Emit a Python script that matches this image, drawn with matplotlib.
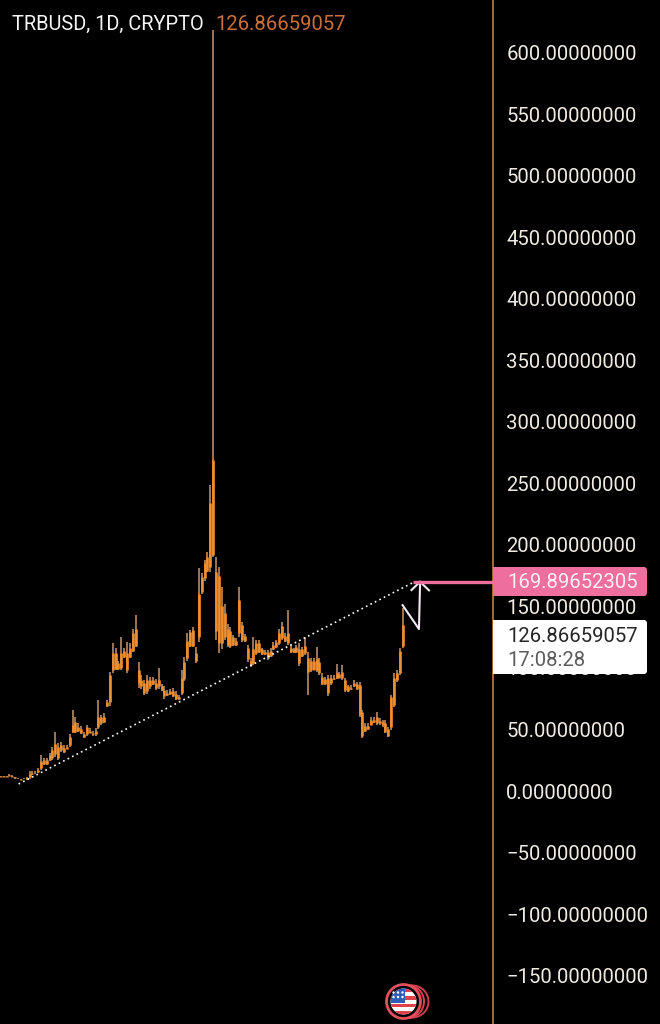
import numpy as np
import matplotlib
matplotlib.use("Agg")
import matplotlib.pyplot as plt
from matplotlib.patches import Circle, Rectangle, FancyBboxPatch

plt.rcParams['font.family'] = ['Roboto', 'DejaVu Sans']

highs = [12,12,12,13.5,13,11,10.5,10,10.5,11,
 16,16,16,19,29,26.5,27,30.6,36,48,
 39,40,37,37,46,66,60,55,53,48,
 54,51,49,51,74,62,63,74,97,120,
 116,106,125,116,121,120,132,143,105,94,
 90,94,93,93,91,100,87,85,82,83,
 84,81,78,98,109,128,131,133,117,181,
 177,188,194,249,618,190,182,166,152,136,
 133,127,124,166,
 137.6,127.6,118.6,107.8,125,122.7,122.7,116,114.6,114.6,
 116,121,122.7,132,137.6,128,147,118.6,116,118.6,
 120,117,125,113,107.8,107.8,116.7,107.8,95.6,93,
 94.3,94.3,94.3,103,97,102.4,91.6,86,86,90,
 88.9,88.9,65.8,55,55,60.4,60.4,64.5,59,57.7,
 57.7,52.3,78,95.6,98.3,116,148.4]
lows = [11,11,11,12,11,10,9.5,9,9.5,9,
 10,13,14,15,17,21,21,24,25,28,
 25,32,31,34,36,47,47,48,46,43,
 45,47,45,45,50,54,55,68,69,96,
 98,98,98,108,96,108,113,117,84,83,
 78,79,83,86,82,83,81,75,77,78,
 76,74,74,78,89,106,117,117,104,121,
 160,171,178,178,190,123,112,115,123,117,
 116,118,118,125,
 121,121,105,101,102.4,110.5,111.9,110.5,110.5,106.5,
 109.2,114.6,116,118.6,122.7,121,118.6,111.9,111.9,111.9,
 101.6,109,110.5,78,97,98.3,97,94.3,86,86,
 77,86,90,90.7,91.6,90,80.7,80.2,82,84.8,
 82,60.4,42.8,48.2,49.6,53.6,55,53.6,53.6,52.3,
 46.9,44.2,49.6,68.6,88.9,94.3,116]
body_tops = [12,12,12,13,12.5,11,10,9.5,10,10.5,
 14,15,15,17,24,25,25,29,33,38,
 36,37,35,36,44,54,56,52,50,46,
 52,49,47,49,60,60,60,72,94,112,
 112,104,112,114,112,116,128,132,98,90,
 88,90,90,90,88,90,85,82,80,81,
 81,79,76,92,105,122,129,131,112,160,
 174,185,190,234,269,178,175,150,145,132,
 130,125,122,155,
 135,126,116,106,115,120,120,115,113,113,
 114,119,121,128,134,126,128,116,115,117,
 115,115,118,108,106,106,107,105,93,91,
 92,92,92,96,95,97,90,85,84,88,
 87,86,64,53,53,58,58,60,57,56,
 55,50,76,92,96,114,135]
body_bottoms = [11.5,11.5,11.5,12.5,11.5,10.5,9.8,9.3,9.7,9.5,
 11,13.5,14.5,15.5,19,22,22,25,27,30,
 27,33,32,34.5,37,48,48,49,47,44,
 46,47.5,46,46,52,55,56,69,72,98,
 99,99,100,109,98,109,114,118,88,85,
 80,81,85,87,84,85,82,77,78,79,
 77,75,75,80,91,108,118,118,106,125,
 162,173,179,182,192,130,120,120,125,119,
 118,119,119,128,
 123,122,107,102,104,112,113,111,111,108,
 110,115,117,120,124,122,120,113,113,113,
 104,110,112,97,98,98,98,96,87,87,
 80,88,91,92,92,92,82,81.5,83,85,
 83,62,45,49,50,54,56,55,55,54,
 48,45,52,70,90,96,118]
price_ticks = [-150,-100,-50,0,50,100,150,200,250,300,350,400,450,500,550,600]
trend_x = [6.0, 143.3]
trend_y = [5.7, 169.2]
target_x = [143.3, 172.5]
target_y = [169.9, 169.9]
path_x = [139.8, 145.5, 145.9]
path_y = [151, 131.6, 170]
head_x = [142.9, 145.9, 149.0]
head_y = [163.3, 170, 163.0]
last_price = "126.86659057"
target_label = "169.89652305"
timer = "17:08:28"

ORANGE = '#f28e2b'
W, H = 660, 1024
fig = plt.figure(figsize=(W/100, H/100), dpi=100, facecolor='black')
ax = fig.add_axes([0, 0, 493/W, 1], facecolor='black')

idx = np.arange(len(highs))
ax.vlines(idx - 0.2, lows, highs, color='#c8986c', lw=1.1, zorder=2)
ax.vlines(idx - 0.2, body_bottoms, body_tops, color=ORANGE, lw=1.9, zorder=3)
ax.plot(trend_x, trend_y, color='white', lw=1.2, ls=(0, (1, 2.0)), zorder=4)
ax.plot(path_x, path_y, color='#f3e9f2', lw=1.5, zorder=5)
ax.plot(head_x, head_y, color='#f3e9f2', lw=1.5, zorder=5)
ax.plot(target_x, target_y, color='#ee6f9d', lw=2.4, solid_capstyle='butt', zorder=5)

ax.set_xlim(-0.488, 171.3)
ax.set_ylim(-189.3, 642.7)
ax.set_xticks([])
ax.yaxis.tick_right()
ax.set_yticks(price_ticks)
ax.set_yticklabels([f"{v:.8f}".replace('-', '\u2212') for v in price_ticks])
ax.tick_params(axis='y', length=0, pad=9.6, labelsize=14.55, labelcolor='#f2ebe4')
for s in ('top', 'left', 'bottom'):
    ax.spines[s].set_visible(False)
ax.spines['right'].set_color('#d98a3a')
ax.spines['right'].set_linewidth(1.1)

# overlay in pixel space for the price tags, header and badge
ov = fig.add_axes([0, 0, 1, 1], facecolor='none', zorder=5)
ov.set_xlim(0, W); ov.set_ylim(H, 0); ov.axis('off')

def tag(y0, y1, color):
    ov.add_patch(FancyBboxPatch((496, y0+3), 148, y1-y0-6,
                 boxstyle='round,pad=3', fc=color, ec='none'))
    ov.add_patch(Rectangle((493, y0), 8, y1-y0, fc=color, ec='none'))

tag(567, 596, '#ee6f9d')
tag(620, 674, 'white')
ov.text(507, 582, target_label, color='#fdeef3', fontsize=14.55, va='center', ha='left')
ov.text(507, 636, last_price, color='#262626', fontsize=14.55, va='center', ha='left')
ov.text(507, 660, timer, color='#5c5c5c', fontsize=14.55, va='center', ha='left')
ov.text(12, 24, "TRBUSD, 1D, CRYPTO", color='#f5f5f5', fontsize=14.4, va='center', ha='left')
ov.text(215, 24, last_price, color='#c8703a', fontsize=14.55, va='center', ha='left')

# flag badge
cx, cy = 403.5, 1001.5
ov.add_patch(Circle((cx+9, cy), 16, fc='none', ec='#c93f4c', lw=1.4))
ov.add_patch(Circle((cx+4, cy), 16.5, fc='black', ec='#d8424f', lw=1.4))
ov.add_patch(Circle((cx, cy), 17, fc='black', ec='#e2505c', lw=2))
clip = Circle((cx, cy), 13, transform=ov.transData, fc='none', ec='none')
ov.add_patch(clip)
bg = Rectangle((cx-14, cy-14), 28, 28, fc='white', ec='none')
ov.add_patch(bg); bg.set_clip_path(clip)
for i in range(4):
    r = Rectangle((cx-14, cy-13+i*7.5), 28, 3.6, fc='#e0414e', ec='none')
    ov.add_patch(r); r.set_clip_path(clip)
c = Rectangle((cx-14, cy-14), 15, 15, fc='#2f5fb5', ec='none')
ov.add_patch(c); c.set_clip_path(clip)
for dx in (-9, -4.5, 0):
    for dy in (-9, -4.5):
        ov.add_patch(Circle((cx+dx-1, cy+dy), 1.2, fc='white', ec='none'))

fig.savefig('out.png', dpi=100, facecolor='black')
